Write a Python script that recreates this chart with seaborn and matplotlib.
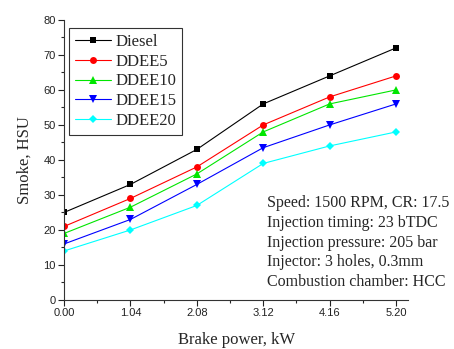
import matplotlib
matplotlib.use("Agg")
import matplotlib.pyplot as plt
import seaborn as sns
import pandas as pd
from matplotlib.ticker import MultipleLocator, FixedLocator

power = [0.00, 1.04, 2.08, 3.12, 4.16, 5.20]
tick_labels = ["0.00", "1.04", "2.08", "3.12", "4.16", "5.20"]
diesel = [25, 33, 43, 56, 64, 72]
ddee5 = [21, 29, 38, 50, 58, 64]
ddee10 = [19, 26.5, 36, 48, 56, 60]
ddee15 = [16, 23, 33, 43.5, 50, 56]
ddee20 = [14, 20, 27, 39, 44, 48]
series_names = ["Diesel", "DDEE5", "DDEE10", "DDEE15", "DDEE20"]
series_vals = [diesel, ddee5, ddee10, ddee15, ddee20]
colors = ["#000000", "#ff0000", "#00e600", "#0000ff", "#00ffff"]
markers = ["s", "o", "^", "v", "D"]
notes = ["Speed: 1500 RPM, CR: 17.5", "Injection timing: 23 bTDC",
         "Injection pressure: 205 bar", "Injector: 3 holes, 0.3mm",
         "Combustion chamber: HCC"]

rows = []
for name, vals in zip(series_names, series_vals):
    for p, v in zip(power, vals):
        rows.append({"power": p, "smoke": v, "fuel": name})
df = pd.DataFrame(rows)

sns.set_theme(style="ticks")
serif = ["Liberation Serif", "DejaVu Serif"]
sans = ["Liberation Sans", "DejaVu Sans"]

fig = plt.figure(figsize=(4.54, 3.49), dpi=100)
ax = fig.add_axes([0.141, 0.1404, 0.758, 0.8026])

sns.lineplot(data=df, x="power", y="smoke", hue="fuel", style="fuel",
             hue_order=series_names, style_order=series_names,
             palette=colors, markers=markers, dashes=False,
             markersize=5, markeredgewidth=0, linewidth=0.8, ax=ax)

msize = {"s": 4.5, "o": 5, "^": 6, "v": 6, "D": 4.3}

ax.set_xlim(0, 5.39)
ax.set_ylim(0, 80)
ax.xaxis.set_major_locator(FixedLocator(power))
ax.set_xticklabels(tick_labels)
ax.xaxis.set_minor_locator(MultipleLocator(0.52))
ax.yaxis.set_major_locator(MultipleLocator(10))
ax.yaxis.set_minor_locator(MultipleLocator(5))
ax.tick_params(which="major", length=4, width=0.8, direction="out", labelsize=8, pad=2, colors="#222222")
ax.tick_params(which="minor", length=2.5, width=0.8, direction="out")
for lab in ax.get_xticklabels() + ax.get_yticklabels():
    lab.set_family(sans)
for s in ["top", "right"]:
    ax.spines[s].set_visible(False)
for s in ["left", "bottom"]:
    ax.spines[s].set_linewidth(0.8)
    ax.spines[s].set_color("#333333")

ax.set_xlabel("Brake power, kW", family=serif, fontsize=12, labelpad=10)
ax.set_ylabel("Smoke, HSU", family=serif, fontsize=12, labelpad=8)

leg = ax.legend(loc="upper left", bbox_to_anchor=(-0.01, 1.0), frameon=True, fancybox=False,
                prop={"family": serif, "size": 12}, handlelength=2.2,
                labelspacing=0.22, borderpad=0.35, handletextpad=0.25)
leg.get_frame().set_edgecolor("black")
leg.get_frame().set_linewidth(0.8)

for ln in list(ax.lines) + list(leg.get_lines()):
    m = ln.get_marker()
    if m in msize:
        ln.set_markersize(msize[m])
        ln.set_markeredgewidth(0)

ax.text(0.59, 0.205, "\n".join(notes), transform=ax.transAxes, family=serif,
        fontsize=11.5, va="center", ha="left", linespacing=1.3)

fig.savefig("out.png", dpi=100)
